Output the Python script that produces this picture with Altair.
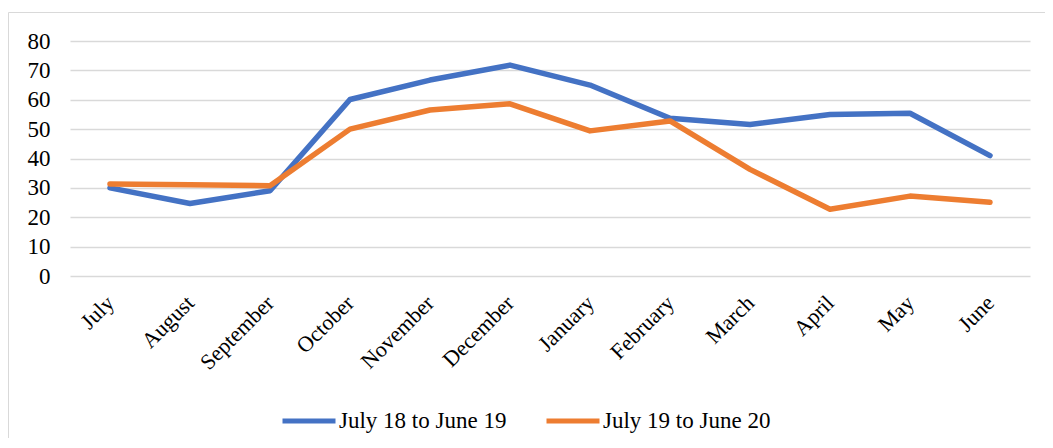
import altair as alt
import pandas as pd

months = ["July", "August", "September", "October", "November", "December",
          "January", "February", "March", "April", "May", "June"]
series_a_name = "July 18 to June 19"
series_b_name = "July 19 to June 20"
series_a = [30.0, 24.7, 29.0, 60.1, 66.7, 71.8, 65.0, 53.7, 51.6, 55.0, 55.4, 41.0]
series_b = [31.3, 31.1, 30.7, 50.0, 56.5, 58.6, 49.4, 52.8, 36.3, 22.7, 27.2, 25.1]
y_ticks = [0, 10, 20, 30, 40, 50, 60, 70, 80]

rows = []
for m, v in zip(months, series_a):
    rows.append({"month": m, "value": v, "series": series_a_name})
for m, v in zip(months, series_b):
    rows.append({"month": m, "value": v, "series": series_b_name})
df = pd.DataFrame(rows)

FONT = "Liberation Serif"

lines = alt.Chart(df).mark_line(strokeWidth=5.5, strokeCap="round", strokeJoin="round").encode(
    x=alt.X("month:N", sort=months,
            scale=alt.Scale(type="point", padding=0.5),
            axis=alt.Axis(title=None, labelAngle=-45, labelAlign="right", labelBaseline="middle",
                          labelPadding=23, labelFontSize=22, labelFont=FONT, labelColor="#000000",
                          ticks=False, domain=False, grid=False)),
    y=alt.Y("value:Q", scale=alt.Scale(domain=[0, 80], nice=False),
            axis=alt.Axis(title=None, values=y_ticks, labelFontSize=23, labelFont=FONT,
                          labelColor="#000000", labelPadding=20, ticks=False, domain=False,
                          grid=True, gridColor="#d9d9d9", gridWidth=1.3)),
    color=alt.Color("series:N",
                    scale=alt.Scale(domain=[series_a_name, series_b_name],
                                    range=["#4472C4", "#ED7D31"]),
                    legend=alt.Legend(title=None, orient="none", direction="horizontal",
                                      legendX=210, legendY=351,
                                      symbolType="stroke", symbolSize=2809,
                                      symbolStrokeWidth=5, labelFontSize=23, labelFont=FONT,
                                      labelColor="#000000", labelOffset=1, columnPadding=29,
                                      labelLimit=400)),
)

frame = pd.DataFrame({"a": [0]})
border_top = alt.Chart(frame).mark_rule(color="#d9d9d9", strokeWidth=1).encode(
    x=alt.value(-61.5), x2=alt.value(1100), y=alt.value(-28.5)
)
border_left = alt.Chart(frame).mark_rule(color="#d9d9d9", strokeWidth=1).encode(
    x=alt.value(-61.5), y=alt.value(-28.5), y2=alt.value(600)
)

chart = alt.layer(border_top, border_left, lines).properties(
    width=960, height=235,
    autosize=alt.AutoSizeParams(type="none"),
    padding={"left": 62, "top": 33, "right": 15, "bottom": 162},
    background="#ffffff",
).configure_view(stroke=None)

chart.save("out.html", embed_options={"renderer": "svg", "actions": False})
